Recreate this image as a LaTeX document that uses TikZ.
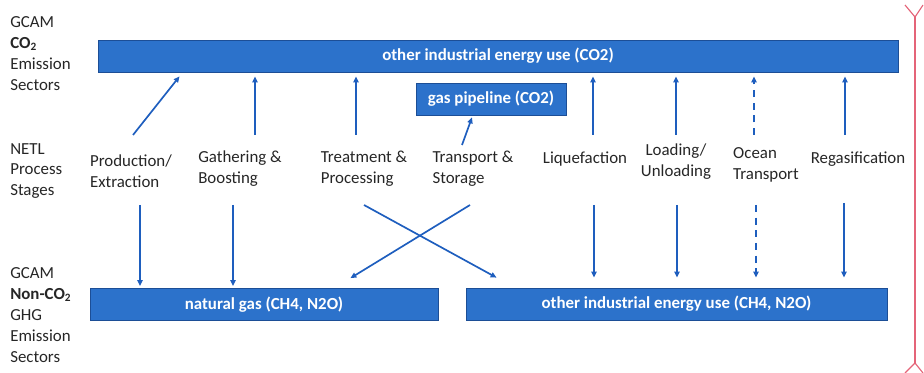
\documentclass[tikz,border=0pt]{standalone}
\usepackage{fontspec}
\setmainfont{Carlito}
\usetikzlibrary{arrows.meta, positioning, calc}

\definecolor{barblue}{RGB}{44,114,203}
\definecolor{barline}{RGB}{28,78,150}
\definecolor{flowblue}{RGB}{30,94,190}
\definecolor{labelgray}{RGB}{38,38,38}
\definecolor{edgered}{RGB}{228,100,120}

\begin{document}
\begin{tikzpicture}[
    x=0.025cm, y=-0.025cm,
    bar/.style={rectangle, draw=barline, line width=0.5pt, fill=barblue, text=white, font=\bfseries\fontsize{12}{14}\selectfont, minimum height=0.8cm, inner sep=0pt},
    stage/.style={align=left, text=labelgray, font=\fontsize{12}{14.9}\selectfont, inner sep=0pt},
    side/.style={stage, anchor=west},
    flow/.style={-{Triangle[length=1.5mm, width=1.3mm]}, line width=1.2pt, draw=flowblue},
    dashflow/.style={flow, dash pattern=on 5pt off 4pt}
]
\useasboundingbox (0,0) rectangle (924,373);

% Sector bars
\node[bar, minimum width=20cm] (co2bar) at (498,56) {other industrial energy use (CO2)};
\node[bar, minimum width=3.75cm] (pipe) at (491,99) {gas pipeline (CO2)};
\node[bar, minimum width=8.7cm] (gasbar) at (264,304.5) {natural gas (CH4, N2O)};
\node[bar, minimum width=10.525cm] (indbar) at (676.5,304) {other industrial energy use (CH4, N2O)};

% Side labels
\node[side] (co2lab) at (10,53.5) {GCAM\\\textbf{CO\textsubscript{2}}\\Emission\\Sectors};
\node[side] (netllab) at (10,171) {NETL\\Process\\Stages};
\node[side] (noncolab) at (10,315) {GCAM\\\textbf{Non-CO\textsubscript{2}}\\GHG\\Emission\\Sectors};

% Process stages
\node[stage] (prod) at (131,171) {Production/\\Extraction};
\node[stage] (gath) at (240,169) {Gathering \&\\Boosting};
\node[stage] (treat) at (364,169) {Treatment \&\\Processing};
\node[stage] (trans) at (473,169) {Transport \&\\Storage};
\node[stage] (liq) at (585,159) {Liquefaction};
\node[stage, align=center] (load) at (676,162) {Loading/\\Unloading};
\node[stage] (ocean) at (766,165) {Ocean\\Transport};
\node[stage] (regas) at (858,159) {Regasification};

\coordinate (uprow) at (0,135);
\coordinate (dnrow) at (0,205);

% Arrows up to CO2 sectors
\draw[flow] ($(prod.north |- uprow)+(2,0)$) -- ($(co2bar.south west)+(82,4)$);
\draw[flow] ($(gath.north |- uprow)+(15,0)$) -- ($(gath.north |- co2bar.south)+(15,4)$);
\draw[flow] ($(treat.north |- uprow)+(-8,0)$) -- ($(treat.north |- co2bar.south)+(-8,4)$);
\draw[flow] ($(trans.north |- uprow)+(-11,10)$) -- ($(pipe.south)+(-19,2)$);
\draw[flow] ($(liq.north |- uprow)+(8,0)$) -- ($(liq.north |- co2bar.south)+(8,4)$);
\draw[flow] (load.north |- uprow) -- ($(load.north |- co2bar.south)+(0,4)$);
\draw[dashflow] ($(ocean.north |- uprow)+(-12,0)$) -- ($(ocean.north |- co2bar.south)+(-12,4)$);
\draw[flow] ($(regas.north |- uprow)+(-13,0)$) -- ($(regas.north |- co2bar.south)+(-13,4)$);

% Arrows down to non-CO2 sectors
\draw[flow] ($(prod.south |- dnrow)+(9,0)$) -- ($(prod.south |- gasbar.north)+(9,-2)$);
\draw[flow] ($(gath.south |- dnrow)+(-7,0)$) -- ($(gath.south |- gasbar.north)+(-7,-2)$);
\draw[flow] (treat.south |- dnrow) -- ($(indbar.north west)+(31,-10)$);
\draw[flow] ($(trans.south |- dnrow)+(-3,0)$) -- ($(gasbar.north east)+(-88,-10)$);
\draw[flow] ($(liq.south |- dnrow)+(9,0)$) -- ($(liq.south |- indbar.north)+(9,-10)$);
\draw[flow] ($(load.south |- dnrow)+(1,0)$) -- ($(load.south |- indbar.north)+(1,-10)$);
\draw[dashflow] ($(ocean.south |- dnrow)+(-10,0)$) -- ($(ocean.south |- indbar.north)+(-10,-10)$);
\draw[flow] ($(regas.south |- dnrow)+(-14,-2)$) -- ($(regas.south |- indbar.north)+(-14,-10)$);

% Page edge marker
\draw[edgered, line width=0.8pt] (905,5) -- (915,17) -- (923,5);
\draw[edgered, line width=0.8pt] (915,17) -- (915,363);
\draw[edgered, line width=0.8pt] (905,373) -- (915,363) -- (923,373);

\end{tikzpicture}
\end{document}
